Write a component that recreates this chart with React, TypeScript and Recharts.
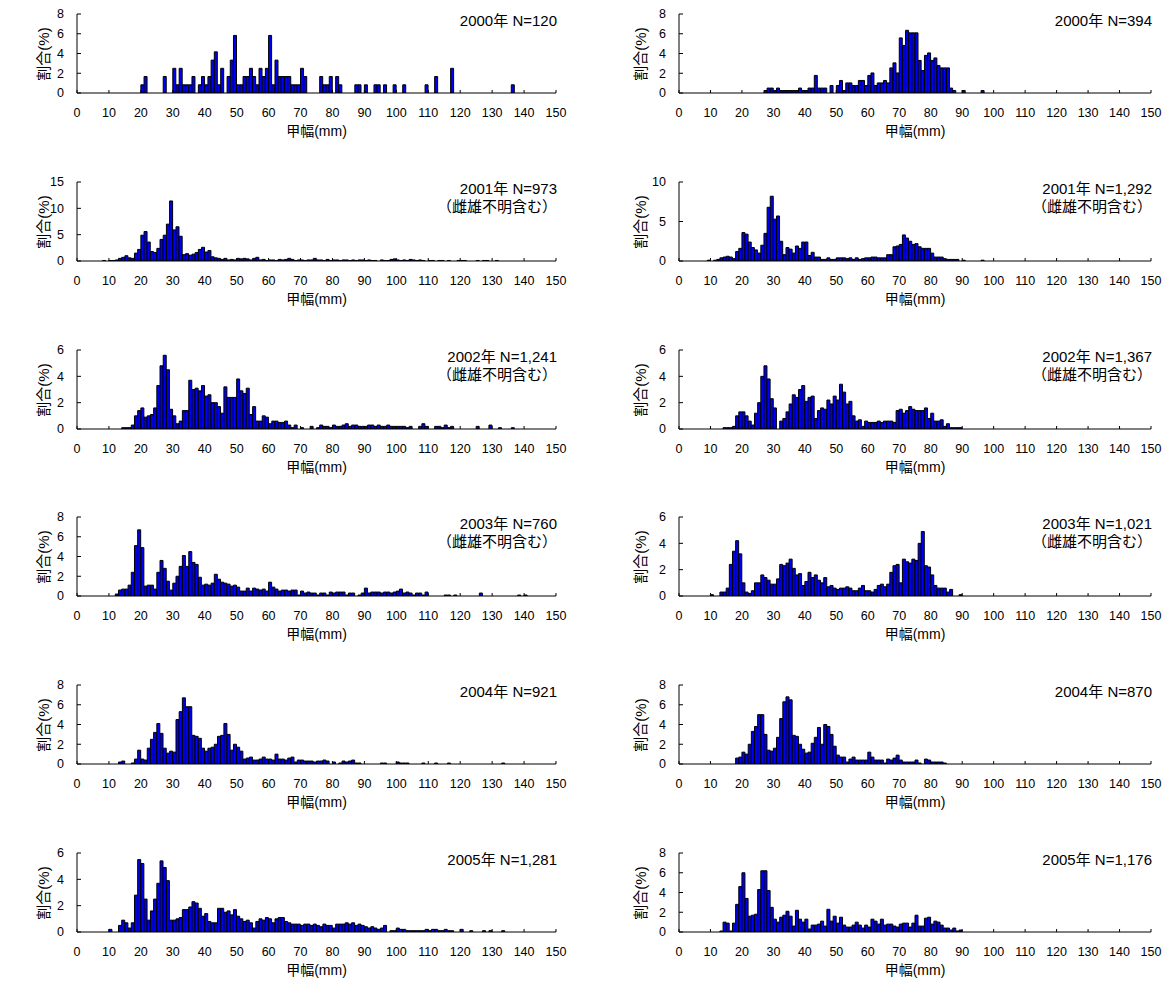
import React from 'react';
import { BarChart, Bar, XAxis, YAxis } from 'recharts';

// 甲幅 1mm 階級ごとの割合(%)。各配列は start の階級から始まる
const X_TICKS = [0, 10, 20, 30, 40, 50, 60, 70, 80, 90, 100, 110, 120, 130, 140, 150];
const BINS = Array.from({ length: 150 }, (_, i) => i);

const left2000Start = 20;
const left2000 = [
  0.83, 1.67, 0, 0, 0, 0, 0, 1.67, 0, 0, 2.5, 0.83, 2.5, 0.83, 0.83, 0.83, 1.67, 0, 0.83, 1.67,
  0.83, 1.67, 3.33, 4.17, 0.83, 2.5, 0, 1.67, 3.33, 5.83, 0.83, 0.83, 1.67, 1.67, 2.5, 1.67, 0.83, 2.5, 1.67, 2.5,
  5.83, 0.83, 3.33, 1.67, 1.67, 1.67, 1.67, 0.83, 0.83, 0.83, 2.5, 1.67, 0, 0, 0, 0, 1.67, 0.83, 0.83, 1.67,
  0, 1.67, 0.83, 0, 0, 0, 0, 0.83, 0.83, 0, 0.83, 0, 0, 0.83, 0.83, 0, 0.83, 0, 0, 0.83,
  0, 0, 0.83, 0, 0, 0, 0, 0, 0, 0.83, 0, 0, 1.67, 0, 0, 0, 0, 2.5, 0, 0,
  0, 0, 0, 0, 0, 0, 0, 0, 0, 0, 0, 0, 0, 0, 0, 0, 0.83,
];

const right2000Start = 27;
const right2000 = [
  0.25, 0.5, 0.5, 0.25, 0.5, 0.25, 0.25, 0.25, 0.25, 0.25, 0.25, 0.5, 0.25, 0.25, 0.5, 0.5, 1.78, 0.5, 0.5, 0.5,
  0, 0.76, 0, 0.76, 1.27, 0.25, 1.02, 1.02, 0.76, 0.76, 1.27, 1.27, 0.76, 1.78, 2.03, 0.76, 1.02, 1.02, 1.27, 1.02,
  2.54, 3.05, 2.03, 5.58, 4.82, 6.35, 6.09, 6.09, 6.09, 3.3, 2.28, 3.81, 4.06, 3.3, 3.55, 2.79, 2.54, 2.54, 2.54, 0.5,
  0.25, 0, 0, 0.25, 0, 0, 0, 0, 0, 0.25,
];

const left2001Start = 8;
const left2001 = [
  0.1, 0, 0.1, 0.1, 0.2, 0.5, 0.7, 1.0, 0.6, 0.5, 1.5, 2.2, 4.9, 5.6, 3.6, 1.8, 1.6, 2.4, 4.1, 4.9,
  7.0, 11.4, 5.9, 6.5, 4.7, 1.2, 1.4, 1.1, 1.3, 1.6, 2.2, 2.6, 1.7, 2.0, 0.8, 0.6, 0.5, 0.3, 0.5, 0.2,
  0.3, 0.2, 0.5, 0.4, 0.5, 0.4, 0.2, 0.5, 0.7, 0.2, 0.3, 0.1, 0.2, 0.2, 0.1, 0.3, 0.2, 0.3, 0.5, 0.3,
  0.1, 0.2, 0.2, 0.1, 0.2, 0.2, 0.5, 0.2, 0.2, 0.1, 0.3, 0.1, 0.2, 0.2, 0.1, 0.2, 0.2, 0.1, 0.2, 0.1,
  0.2, 0.2, 0.1, 0.2, 0.1, 0.1, 0, 0.2, 0.1, 0.1, 0.3, 0.4, 0.2, 0.1, 0.2, 0.1, 0.3, 0.2, 0.1, 0.2,
  0.1, 0, 0.1, 0.1, 0, 0.1, 0.1, 0, 0.1, 0, 0, 0.1, 0.1, 0.1, 0, 0, 0, 0.1, 0, 0.1,
  0.1, 0, 0, 0.1,
];

const right2001Start = 9;
const right2001 = [
  0.1, 0, 0.1, 0.2, 0.4, 0.5, 0.6, 0.5, 0.3, 1.2, 1.6, 3.6, 3.4, 2.4, 1.7, 1.4, 1.0, 2.0, 3.5, 6.8,
  8.2, 5.3, 5.7, 2.5, 0.8, 1.7, 1.5, 1.0, 1.9, 1.6, 2.4, 2.4, 0.7, 1.1, 0.5, 0.5, 0.2, 0.2, 0.4, 0.2,
  0.2, 0.4, 0.4, 0.4, 0.3, 0.4, 0.2, 0.4, 0.2, 0.3, 0.4, 0.4, 0.5, 0.5, 0.4, 0.4, 0.4, 0.8, 0.8, 1.8,
  1.9, 2.1, 3.3, 2.9, 2.5, 2.1, 2.2, 1.8, 1.6, 1.6, 1.6, 1.0, 0.5, 0.5, 0.5, 0.3, 0.2, 0.2, 0.2, 0.2,
  0, 0.1, 0, 0, 0, 0, 0, 0.1,
];

const left2002Start = 14;
const left2002 = [
  0.1, 0.1, 0.1, 0.3, 1.0, 1.4, 1.6, 0.9, 1.0, 1.1, 1.6, 3.3, 4.8, 5.6, 4.5, 1.5, 1.0, 0.4, 0.6, 1.4,
  1.4, 3.7, 3.0, 3.1, 2.9, 3.3, 2.5, 2.6, 2.0, 2.0, 1.7, 1.2, 3.2, 2.4, 2.4, 2.4, 3.8, 2.9, 2.7, 3.1,
  1.1, 1.7, 0.6, 0.6, 1.0, 0.9, 0.4, 0.6, 0.6, 0.5, 0.5, 0.6, 0.3, 0.1, 0.3, 0, 0.1, 0, 0, 0.2,
  0, 0.1, 0.3, 0.2, 0.2, 0.1, 0.3, 0.2, 0.2, 0.3, 0.4, 0.2, 0.3, 0.3, 0.2, 0.2, 0.2, 0.3, 0.3, 0.2,
  0.3, 0.2, 0.2, 0.3, 0.2, 0.2, 0.2, 0.2, 0.2, 0.1, 0.2, 0, 0, 0.2, 0.4, 0.2, 0, 0, 0.2, 0.2,
  0.1, 0.3, 0.1, 0.2, 0, 0, 0, 0, 0, 0, 0, 0.2, 0, 0, 0, 0.3, 0, 0, 0.1, 0,
  0, 0, 0.1,
];

const right2002Start = 14;
const right2002 = [
  0.1, 0.1, 0.1, 0.2, 1.0, 1.3, 1.3, 1.0, 0.6, 0.3, 1.2, 2.0, 4.0, 4.8, 3.8, 2.3, 1.6, 0, 0.6, 0.8,
  1.3, 1.9, 2.6, 2.4, 3.0, 3.3, 2.1, 2.4, 2.5, 0.8, 1.4, 1.6, 1.5, 2.2, 1.9, 2.5, 2.2, 3.4, 2.8, 1.9,
  2.1, 1.0, 0.6, 0.7, 0.2, 0.6, 0.5, 0.5, 0.5, 0.6, 0.5, 0.6, 0.6, 0.6, 0.5, 1.4, 1.5, 1.2, 1.4, 1.7,
  1.5, 1.4, 1.4, 1.4, 1.6, 0.8, 1.2, 0.6, 0.6, 0.7, 0.2, 0.4, 0.1, 0.1, 0.1, 0.1,
];

const left2003Start = 12;
const left2003 = [
  0.2, 0.6, 0.7, 0.7, 1.1, 2.4, 5.1, 6.7, 4.9, 1.0, 1.1, 1.1, 0.7, 2.4, 3.6, 2.8, 1.5, 0.6, 1.3, 2.0,
  3.0, 4.1, 3.0, 4.5, 3.4, 3.2, 1.9, 1.1, 1.2, 1.1, 1.3, 2.2, 1.7, 1.4, 1.3, 1.2, 1.0, 1.1, 0.9, 0.5,
  0.5, 0.8, 0.5, 0.8, 0.7, 0.6, 0.7, 0.5, 1.4, 0.9, 0.7, 0.5, 0.6, 0.6, 0.5, 0.6, 0.6, 0.1, 0.5, 0.3,
  0.4, 0.3, 0.3, 0.1, 0.3, 0.3, 0.1, 0.4, 0.3, 0.4, 0.4, 0.4, 0.1, 0.3, 0.3, 0, 0.1, 0.3, 0.8, 0.3,
  0.4, 0.4, 0.4, 0.3, 0.4, 0.4, 0.3, 0.4, 0.5, 0.7, 0.3, 0.4, 0.3, 0.1, 0.3, 0.3, 0.1, 0.4, 0, 0,
  0, 0, 0, 0.1, 0.1, 0, 0.1, 0, 0, 0, 0, 0, 0, 0, 0.3, 0, 0, 0, 0, 0,
  0, 0, 0, 0, 0, 0, 0.1, 0, 0.1,
];

const right2003Start = 10;
const right2003 = [
  0.1, 0, 0, 0.3, 0.3, 0.6, 2.4, 3.4, 4.2, 3.2, 1.0, 0.3, 0.2, 0.4, 1.0, 1.0, 1.6, 1.4, 1.2, 0.9,
  0.9, 1.3, 2.4, 2.3, 2.5, 2.8, 2.1, 1.6, 1.7, 0.8, 1.1, 1.8, 1.4, 1.6, 1.2, 1.0, 1.4, 0.7, 0.8, 0.6,
  0.5, 0.6, 0.6, 0.7, 0.6, 0.4, 0.4, 0.6, 0.8, 0.4, 0.4, 0.3, 0.5, 0.8, 0.9, 0.7, 0.9, 1.8, 2.3, 2.4,
  1.0, 2.8, 2.6, 2.5, 2.8, 2.7, 4.0, 4.9, 2.3, 2.2, 1.6, 0.8, 0.6, 0.6, 0.6, 0.3, 0.5, 0, 0, 0.1,
];

const left2004Start = 13;
const left2004 = [
  0.2, 0.3, 0, 0, 0.1, 0.5, 1.4, 0.5, 0.4, 1.6, 2.5, 3.2, 4.1, 3.1, 1.6, 1.1, 1.3, 1.2, 4.5, 5.3,
  6.7, 5.8, 5.8, 2.9, 2.8, 2.6, 1.6, 1.3, 1.6, 1.7, 2.0, 2.8, 2.9, 4.1, 3.0, 1.4, 2.0, 1.7, 1.3, 0.5,
  0.6, 0.7, 0.4, 0.4, 0.5, 0.7, 0.5, 0.5, 0.4, 1.0, 0.5, 0.5, 0.4, 0.6, 0.7, 0.2, 0.4, 0.4, 0.3, 0.3,
  0.3, 0.2, 0.3, 0.3, 0.4, 0.3, 0, 0.2, 0, 0.1, 0.3, 0.2, 0.3, 0.4, 0.1, 0.1, 0, 0, 0, 0,
  0, 0, 0.1, 0.1, 0, 0, 0, 0.2, 0.1, 0.1, 0.1, 0, 0, 0, 0, 0.1, 0, 0, 0, 0.1,
  0, 0, 0, 0.1, 0, 0, 0, 0, 0, 0, 0, 0, 0, 0, 0, 0, 0, 0, 0, 0,
  0.1,
];

const right2004Start = 18;
const right2004 = [
  0.6, 0.7, 1.2, 1.0, 2.0, 3.3, 3.8, 5.0, 5.0, 3.0, 1.4, 1.3, 1.6, 2.7, 4.6, 6.3, 6.8, 6.5, 2.9, 2.8,
  2.0, 1.5, 1.1, 1.2, 2.1, 2.7, 3.7, 2.0, 4.0, 3.8, 3.0, 1.8, 0.9, 0.7, 0.7, 0.2, 0.5, 0.7, 0.4, 0.4,
  0.4, 0.4, 1.2, 0.7, 0.4, 0.4, 0.4, 0.1, 0.5, 0.4, 0.6, 0.9, 0.4, 0.2, 0.2, 0.2, 0.2, 0.4, 0.1, 0,
  0.5, 0.4, 0.2, 0.2, 0.2, 0.2, 0.1,
];

const left2005Start = 10;
const left2005 = [
  0.2, 0, 0, 0.5, 0.9, 0.7, 0.3, 0.7, 2.8, 5.5, 5.2, 2.5, 0.9, 1.6, 2.5, 3.7, 5.4, 4.9, 3.9, 0.9,
  0.9, 1.0, 1.1, 1.7, 1.7, 1.9, 2.3, 2.2, 1.8, 1.2, 1.4, 0.8, 0.7, 0.7, 1.8, 1.8, 1.5, 1.6, 1.3, 1.7,
  1.2, 1.0, 0.8, 0.9, 0.7, 0.3, 0.8, 1.0, 0.9, 1.1, 1.0, 0.7, 1.0, 1.1, 1.1, 0.8, 0.7, 0.6, 0.6, 0.6,
  0.5, 0.6, 0.6, 0.5, 0.6, 0.5, 0.4, 0.6, 0.5, 0.5, 0.3, 0.6, 0.6, 0.6, 0.7, 0.6, 0.7, 0.5, 0.6, 0.5,
  0.4, 0.3, 0.4, 0.3, 0.2, 0.3, 0.5, 0, 0.1, 0.1, 0.3, 0.2, 0.2, 0.1, 0.1, 0.1, 0.1, 0.1, 0.1, 0.2,
  0.1, 0.2, 0.2, 0.1, 0.1, 0.2, 0.1, 0.1, 0, 0, 0.2, 0, 0, 0.1, 0, 0, 0, 0.1, 0, 0.1,
  0, 0, 0, 0.1,
];

const right2005Start = 13;
const right2005 = [
  0.1, 1.0, 0.9, 0.1, 0.9, 2.8, 4.6, 6.0, 3.4, 1.6, 1.7, 1.8, 4.3, 6.2, 6.2, 4.2, 2.5, 1.3, 1.0, 1.5,
  1.7, 2.1, 1.6, 0.6, 2.2, 1.3, 1.0, 1.3, 0.3, 0.7, 0.7, 0.8, 1.1, 0.6, 2.3, 1.1, 1.6, 0.9, 1.5, 0.7,
  0.5, 0.5, 0.7, 1.0, 0.7, 0.4, 0.7, 0.5, 1.3, 1.1, 0.8, 1.3, 0.7, 0.8, 0.8, 0.6, 0.5, 0.8, 0.9, 0.9,
  0.5, 0.9, 1.7, 0.6, 0.6, 1.4, 1.5, 0.8, 1.1, 1.0, 0.7, 0.4, 0.4, 0.2, 0.4, 0.1, 0.2,
];

const leftTitles = ['2000年 N=120', '2001年 N=973', '2002年 N=1,241', '2003年 N=760', '2004年 N=921', '2005年 N=1,281'];
const rightTitles = ['2000年 N=394', '2001年 N=1,292', '2002年 N=1,367', '2003年 N=1,021', '2004年 N=870', '2005年 N=1,176'];
const noteRows = [1, 2, 3];

const leftYMax = [8, 15, 6, 8, 8, 6];
const rightYMax = [8, 10, 6, 6, 8, 8];
const Y_TICKS: Record<number, number[]> = {
  6: [0, 2, 4, 6],
  8: [0, 2, 4, 6, 8],
  10: [0, 5, 10],
  15: [0, 5, 10, 15],
};

const leftSeries = [
  [left2000Start, left2000], [left2001Start, left2001], [left2002Start, left2002],
  [left2003Start, left2003], [left2004Start, left2004], [left2005Start, left2005],
] as [number, number[]][];
const rightSeries = [
  [right2000Start, right2000], [right2001Start, right2001], [right2002Start, right2002],
  [right2003Start, right2003], [right2004Start, right2004], [right2005Start, right2005],
] as [number, number[]][];

const FONT = '"Liberation Sans", Arial, "Noto Sans CJK JP", sans-serif';
const ROW_TOPS = [14, 182, 350, 517, 685, 853];
const PLOT_H = 79;
const M_TOP = 10;
const X_H = 40;
const Y_W = 26;
const COLS = [
  { left: 0, width: 580, ml: 51, mr: 24, yLabelX: 44 },
  { left: 600, width: 576, ml: 53, mr: 25, yLabelX: 641 },
];

interface PanelProps {
  col: number;
  row: number;
  start: number;
  values: number[];
  yMax: number;
  title: string;
  note: boolean;
}

function Panel({ col, row, start, values, yMax, title, note }: PanelProps) {
  const top = ROW_TOPS[row];
  const geo = COLS[col];
  const data = BINS.map((b) => ({
    x: b + 0.5,
    pct: b >= start && b - start < values.length ? values[b - start] : 0,
  }));
  const plotLeft = geo.left + geo.ml + Y_W;
  const plotRight = geo.left + geo.width - geo.mr;
  const zeroY = top + PLOT_H;

  return (
    <>
      <div style={{ position: 'absolute', left: geo.left, top: top - M_TOP }}>
        <BarChart
          width={geo.width}
          height={M_TOP + PLOT_H + X_H}
          data={data}
          margin={{ top: M_TOP, right: geo.mr, bottom: 0, left: geo.ml }}
          barCategoryGap={0}
          barGap={0}
        >
          <XAxis
            dataKey="x"
            type="number"
            domain={[0, 150]}
            ticks={X_TICKS}
            interval={0}
            height={X_H}
            tickSize={-3}
            tickMargin={18}
            stroke="#000"
            tick={{ fill: '#000', fontSize: 12.5 }}
            allowDataOverflow
          />
          <YAxis
            type="number"
            domain={[0, yMax]}
            ticks={Y_TICKS[yMax]}
            interval={0}
            width={Y_W}
            tickSize={-4}
            tickMargin={17}
            stroke="#000"
            tick={{ fill: '#000', fontSize: 12.5 }}
            allowDataOverflow
          />
          <Bar dataKey="pct" fill="#0000f0" stroke="#000" strokeWidth={1} isAnimationActive={false} />
        </BarChart>
      </div>
      <div style={{ position: 'absolute', left: plotRight - 219, width: 220, top: top - 2, textAlign: 'right', fontSize: 15, lineHeight: '18px' }}>
        {title}
      </div>
      {note && (
        <div style={{ position: 'absolute', left: plotRight - 219, width: 220, top: top + 16, textAlign: 'right', fontSize: 15, lineHeight: '18px' }}>
          （雌雄不明含む）
        </div>
      )}
      <div
        style={{
          position: 'absolute',
          left: geo.yLabelX - 40,
          top: top + PLOT_H / 2 - 9,
          width: 80,
          height: 18,
          lineHeight: '18px',
          textAlign: 'center',
          fontSize: 15,
          transform: 'rotate(-90deg)',
        }}
      >
        割合(%)
      </div>
      <div
        style={{
          position: 'absolute',
          left: (plotLeft + plotRight) / 2 - 60,
          width: 120,
          top: zeroY + 29,
          lineHeight: '18px',
          textAlign: 'center',
          fontSize: 14,
        }}
      >
        甲幅(mm)
      </div>
    </>
  );
}

export default function App() {
  return (
    <div style={{ position: 'absolute', left: 0, top: 0, width: 1176, height: 982, background: '#fff', fontFamily: FONT, color: '#000' }}>
      {leftSeries.map(([start, values], row) => (
        <Panel key={`l${row}`} col={0} row={row} start={start} values={values} yMax={leftYMax[row]} title={leftTitles[row]} note={noteRows.includes(row)} />
      ))}
      {rightSeries.map(([start, values], row) => (
        <Panel key={`r${row}`} col={1} row={row} start={start} values={values} yMax={rightYMax[row]} title={rightTitles[row]} note={noteRows.includes(row)} />
      ))}
    </div>
  );
}
